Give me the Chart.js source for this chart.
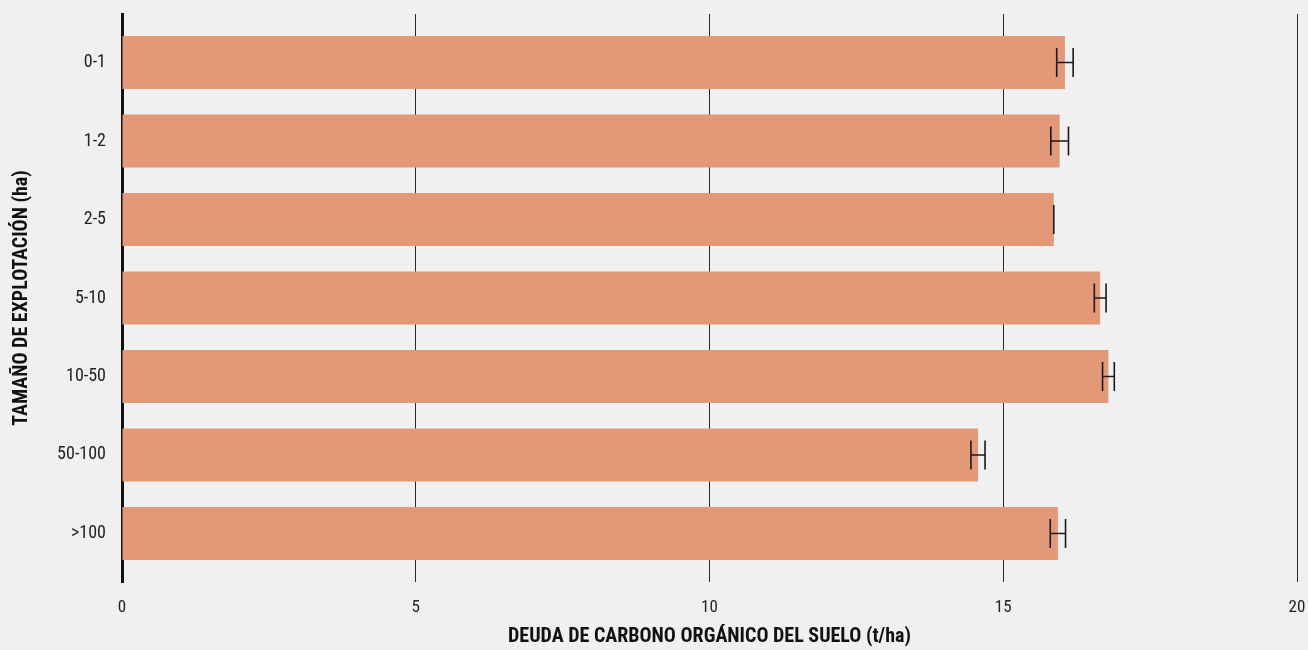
<!DOCTYPE html>
<html><head><meta charset="utf-8">
<script src="https://cdn.jsdelivr.net/npm/chart.js@4/dist/chart.umd.min.js"></script>
<style>
html,body{margin:0;padding:0;background:#f0f0f0;}
#wrap{width:1308px;height:650px;position:relative;}
</style></head>
<body><div id="wrap"><canvas id="c" width="1308" height="650"></canvas></div>
<script>
const categories = ["0-1","1-2","2-5","5-10","10-50","50-100",">100"];
const values = [16.05, 15.96, 15.86, 16.65, 16.79, 14.57, 15.93];
const errors = [0.14, 0.15, 0.0, 0.10, 0.10, 0.12, 0.13];
const xTicks = [0, 5, 10, 15, 20];
const xTitle = "DEUDA DE CARBONO ORGÁNICO DEL SUELO (t/ha)";
const yTitle = "TAMAÑO DE EXPLOTACIÓN (ha)";

const FONT = "'Liberation Sans Narrow', 'Roboto Condensed', 'DejaVu Sans Condensed', sans-serif";

const errorBars = {
  id: 'errorBars',
  afterDatasetsDraw(chart) {
    const ctx = chart.ctx, xs = chart.scales.x, ys = chart.scales.y;
    ctx.save();
    ctx.strokeStyle = '#1a1a1a';
    ctx.lineWidth = 1.6;
    values.forEach((v, i) => {
      const y = ys.getPixelForValue(i);
      const x1 = xs.getPixelForValue(v - errors[i]);
      const x2 = xs.getPixelForValue(v + errors[i]);
      const h = 14.5;
      ctx.beginPath();
      ctx.moveTo(x1, y - h); ctx.lineTo(x1, y + h);
      ctx.moveTo(x2, y - h); ctx.lineTo(x2, y + h);
      ctx.moveTo(x1, y); ctx.lineTo(x2, y);
      ctx.stroke();
    });
    ctx.restore();
  }
};

new Chart(document.getElementById('c'), {
  type: 'bar',
  data: {
    datasets: [{
      data: values.map((v, i) => ({x: v, y: i})),
      backgroundColor: '#e39878',
      borderWidth: 0,
      barPercentage: 0.675,
      categoryPercentage: 1
    }]
  },
  options: {
    indexAxis: 'y',
    responsive: false,
    animation: false,
    layout: {padding: {left: 0, right: 11, top: 14, bottom: 0}},
    plugins: {legend: {display: false}, tooltip: {enabled: false}},
    scales: {
      x: {
        type: 'linear', min: 0, max: 20,
        afterBuildTicks(s) { s.ticks = xTicks.map(v => ({value: v})); },
        afterFit(s) { s.height = 68; s.paddingLeft = 0; s.paddingRight = 0; },
        grid: {color: '#2a2a2a', lineWidth: 1, drawTicks: false},
        border: {display: false},
        ticks: {padding: 16, color: '#222', font: {family: FONT, size: 17}},
        title: {display: true, text: xTitle, color: '#111', font: {family: FONT, size: 20, weight: 'bold'}, padding: {top: 0, bottom: 1}}
      },
      y: {
        type: 'linear', reverse: true, min: -0.618, max: 6.618, offset: false,
        afterBuildTicks(s) { s.ticks = categories.map((c, i) => ({value: i})); },
        afterFit(s) { s.width = 122; s.paddingTop = 0; s.paddingBottom = 0; },
        grid: {display: false, offset: false},
        border: {display: true, color: '#111', width: 3},
        ticks: {padding: 8, color: '#222', font: {family: FONT, size: 18}, callback: (v) => categories[v]},
        title: {display: true, text: yTitle, color: '#111', font: {family: FONT, size: 20, weight: 'bold'}, padding: {top: 10, bottom: 0}}
      }
    }
  },
  plugins: [errorBars]
});
</script></body></html>
